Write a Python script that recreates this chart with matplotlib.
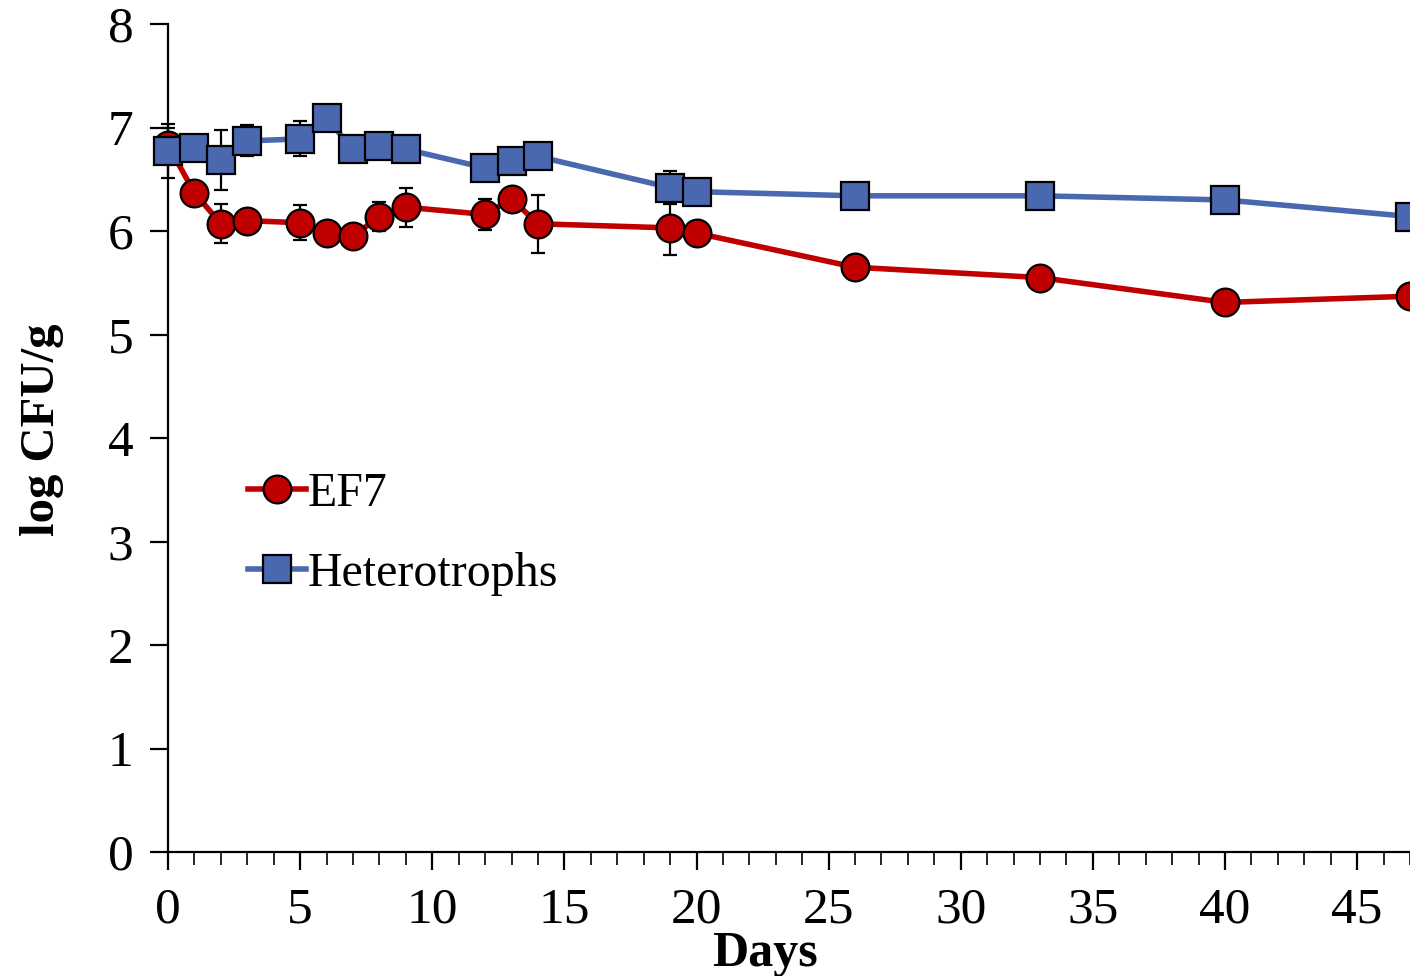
import matplotlib.pyplot as plt
from matplotlib.ticker import MultipleLocator

# --- Data ---
days = [0, 1, 2, 3, 5, 6, 7, 8, 9, 12, 13, 14, 19, 20, 26, 33, 40, 47]

ef7 = [6.83, 6.37, 6.07, 6.10, 6.08, 5.98, 5.95, 6.14, 6.23, 6.16, 6.31, 6.07,
       6.03, 5.98, 5.65, 5.55, 5.31, 5.37]
ef7_err = [0.17, 0.0, 0.19, 0.0, 0.17, 0.0, 0.0, 0.14, 0.19, 0.15, 0.0, 0.28,
           0.26, 0.0, 0.0, 0.0, 0.0, 0.0]

het = [6.77, 6.80, 6.69, 6.87, 6.89, 7.09, 6.79, 6.82, 6.79, 6.61, 6.68, 6.72,
       6.42, 6.38, 6.34, 6.34, 6.30, 6.14]
het_err = [0.26, 0.0, 0.29, 0.15, 0.17, 0.0, 0.0, 0.0, 0.0, 0.0, 0.0, 0.0,
           0.16, 0.0, 0.0, 0.0, 0.0, 0.0]

red = '#C00000'
blue = '#4A68AF'

plt.rcParams['font.family'] = ['Liberation Serif', 'DejaVu Serif']

# --- Figure ---
fig = plt.figure(figsize=(14.1, 9.76), dpi=100)
ax = fig.add_axes([168 / 1410, 124 / 976, 1 - 168 / 1410, (852 - 24) / 976])

# error bars behind the markers
ax.errorbar(days, het, yerr=het_err, fmt='none', ecolor='black', elinewidth=1.6,
            capsize=5, capthick=1.6, zorder=2, clip_on=False)
ax.errorbar(days, ef7, yerr=ef7_err, fmt='none', ecolor='black', elinewidth=1.6,
            capsize=5, capthick=1.6, zorder=2, clip_on=False)

ax.plot(days, ef7, color=red, lw=4, marker='o', ms=20, mfc=red, mec='black',
        mew=1.6, label='EF7', zorder=3, clip_on=False)
ax.plot(days, het, color=blue, lw=4, marker='s', ms=19.5, mfc=blue, mec='black',
        mew=1.6, label='Heterotrophs', zorder=4, clip_on=False)

# --- Axes styling ---
ax.set_xlim(0, 47)
ax.set_ylim(0, 8)
ax.xaxis.set_major_locator(MultipleLocator(5))
ax.xaxis.set_minor_locator(MultipleLocator(1))
ax.yaxis.set_major_locator(MultipleLocator(1))

for s in ['top', 'right']:
    ax.spines[s].set_visible(False)
for s in ['left', 'bottom']:
    ax.spines[s].set_linewidth(1.6)

ax.tick_params(axis='both', which='major', direction='out', length=13, width=1.6,
               labelsize=37)
ax.tick_params(axis='x', which='minor', direction='out', length=9, width=1.2)
ax.tick_params(axis='x', which='major', pad=12)
ax.tick_params(axis='y', which='major', pad=12)

ax.set_xlabel('Days', fontsize=36, fontweight='bold')
ax.xaxis.set_label_coords((765 - 168) / 1242, -(966 - 852) / 828)
ax.xaxis.label.set_va('baseline')
ax.set_ylabel('log CFU/g', fontsize=35, fontweight='bold')
ax.yaxis.set_label_coords(-(168 - 20) / 1242, (852 - 430) / 828)
ax.yaxis.label.set_va('top')

ax.legend(loc='upper left', bbox_to_anchor=(0.049, 0.482), frameon=False,
          fontsize=34.5, handlelength=1.2, handletextpad=0.05, labelspacing=0.74,
          borderaxespad=0)

fig.savefig('out.png', dpi=100)
plt.close(fig)
